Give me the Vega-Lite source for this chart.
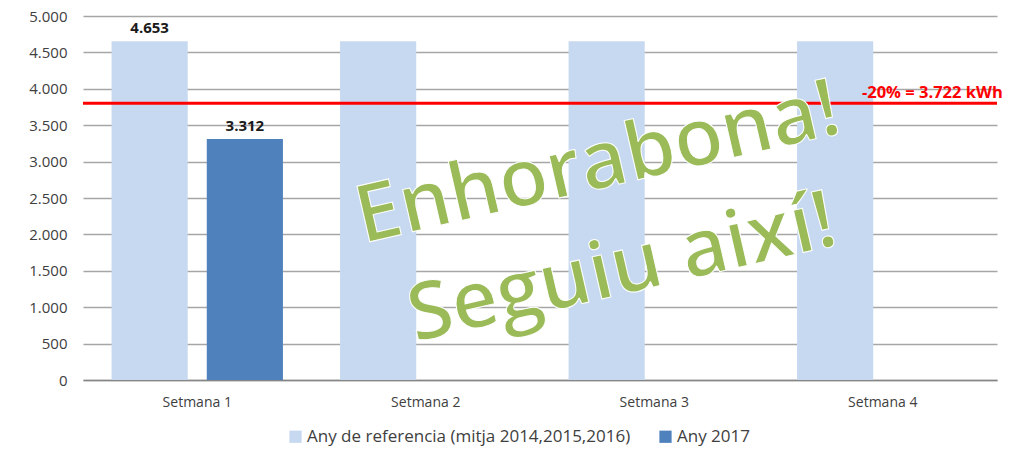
{
  "$schema": "https://vega.github.io/schema/vega-lite/v6.json",
  "autosize": {"type": "none"},
  "padding": {"left": 83, "top": 16, "right": 21, "bottom": 70},
  "width": 914,
  "height": 364,
  "background": "white",
  "config": {
    "locale": {"number": {"decimal": ",", "thousands": ".", "grouping": [3], "currency": ["", " €"]}},
    "view": {"stroke": null},
    "font": "Open Sans"
  },
  "datasets": {
    "bars": [
      {"week": "Setmana 1", "series": "Any de referencia (mitja 2014,2015,2016)", "value": 4653},
      {"week": "Setmana 1", "series": "Any 2017", "value": 3312},
      {"week": "Setmana 2", "series": "Any de referencia (mitja 2014,2015,2016)", "value": 4653},
      {"week": "Setmana 3", "series": "Any de referencia (mitja 2014,2015,2016)", "value": 4653},
      {"week": "Setmana 4", "series": "Any de referencia (mitja 2014,2015,2016)", "value": 4653}
    ]
  },
  "encoding": {
    "y": {
      "field": "value", "type": "quantitative",
      "scale": {"domain": [0, 5000], "nice": false},
      "axis": {"title": null, "values": [0, 500, 1000, 1500, 2000, 2500, 3000, 3500, 4000, 4500, 5000], "format": ",d", "labelOverlap": false, "domain": false, "ticks": false, "labelPadding": 16, "labelFontSize": 15, "labelColor": "#404040", "labelFont": "Open Sans", "gridColor": "#a6a6a6", "gridWidth": 1.5}
    }
  },
  "layer": [
    {
      "data": {"name": "bars"},
      "mark": {"type": "bar"},
      "encoding": {
        "x": {
          "field": "week", "type": "nominal", "sort": null,
          "scale": {"paddingInner": 0, "paddingOuter": 0},
          "axis": {"title": null, "labelAngle": 0, "ticks": false, "labelPadding": 15, "labelFontSize": 14, "labelColor": "#404040", "labelFont": "Open Sans", "domainColor": "#868686", "domainWidth": 1.5, "grid": false}
        },
        "xOffset": {
          "field": "series", "type": "nominal",
          "scale": {"domain": ["Any de referencia (mitja 2014,2015,2016)", "Any 2017"], "paddingInner": 0.2, "paddingOuter": 0.3}
        },
        "color": {
          "field": "series", "type": "nominal",
          "scale": {"domain": ["Any de referencia (mitja 2014,2015,2016)", "Any 2017"], "range": ["#c6d9f0", "#4f81bd"]},
          "legend": {
            "title": null, "orient": "none", "direction": "horizontal", "legendX": 204, "legendY": 412,
            "symbolType": "square", "symbolSize": 150, "symbolStrokeWidth": 0, "labelFontSize": 17, "labelColor": "#404040", "labelFont": "Open Sans", "columnPadding": 26, "labelOffset": 3, "labelLimit": 500
          }
        }
      }
    },
    {
      "data": {"name": "bars"},
      "transform": [{"filter": "datum.week === 'Setmana 1'"}],
      "mark": {"type": "text", "baseline": "bottom", "dy": -5, "fontSize": 15, "fontWeight": "bold", "color": "#1a1a1a", "font": "Open Sans"},
      "encoding": {
        "x": {"field": "week", "type": "nominal", "sort": null},
        "xOffset": {"field": "series", "type": "nominal"},
        "text": {"field": "value", "type": "quantitative", "format": ",d"}
      }
    },
    {
      "data": {"values": [{"value": 3800}]},
      "mark": {"type": "rule", "color": "#ff0000", "strokeWidth": 3},
      "encoding": {}
    },
    {
      "data": {"values": [{"week": "Setmana 4", "value": 3800, "label": "-20% = 3.722 kWh"}]},
      "mark": {"type": "text", "align": "right", "baseline": "bottom", "dx": 120, "dy": -2, "fontSize": 16.5, "fontWeight": "bold", "color": "#ff0000", "font": "Open Sans"},
      "encoding": {
        "x": {"field": "week", "type": "nominal", "sort": null},
        "text": {"field": "label"}
      }
    },
    {
      "data": {"values": [{"week": "Setmana 3", "value": 3140, "label": "Enhorabona!\nSeguiu així!"}]},
      "mark": {"type": "text", "align": "center", "baseline": "middle", "lineBreak": "\n", "lineHeight": 108, "angle": -13, "dx": -58, "fontSize": 80, "fontWeight": 600, "color": "#9bbb59", "stroke": "white", "strokeWidth": 1, "font": "Open Sans"},
      "encoding": {
        "x": {"field": "week", "type": "nominal", "sort": null},
        "text": {"field": "label"}
      }
    }
  ]
}
